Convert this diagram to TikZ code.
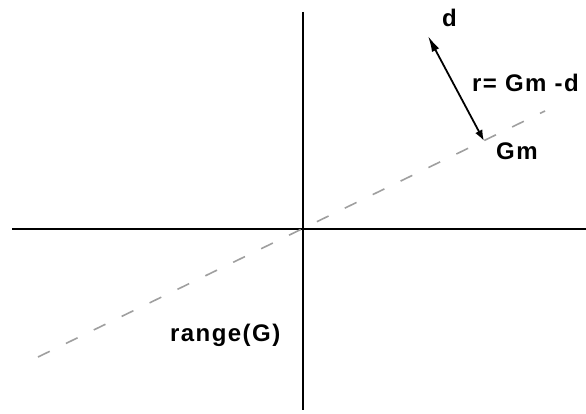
\documentclass[tikz,border=0pt]{standalone}
\usepackage{fontspec}
\setmainfont{Liberation Sans}[LetterSpace=6]
\usetikzlibrary{arrows.meta}
\begin{document}
\begin{tikzpicture}[x=1pt,y=-1pt,
  axis/.style={line width=2pt,black},
  rangeline/.style={line width=1.6pt,gray!75,dash pattern=on 13pt off 18pt},
  vec/.style={line width=1.8pt,{Latex[length=16pt,width=8pt]}-{Latex[length=11pt,width=8pt]}},
  lbl/.style={font=\bfseries\fontsize{24}{28}\selectfont,inner sep=0pt,anchor=base west}]
\useasboundingbox (0,0) rectangle (586,414);
\coordinate (xl) at (12,229);
\coordinate (xr) at (586,229);
\coordinate (yt) at (303,12);
\coordinate (yb) at (303,410);
\coordinate (rl) at (38,357);
\coordinate (rr) at (545,111);
\coordinate (gm) at (484,141);
\coordinate (dd) at (428,36);
\draw[axis] (xl) -- (xr);
\draw[axis] (yt) -- (yb);
\draw[rangeline] (rl) -- (rr);
\draw[vec] (dd) -- (gm);
\node[lbl] (dlab) at (442,27) {d};
\node[lbl] (rlab) at (472,92) {r= Gm -d};
\node[lbl] (gmlab) at (496,160) {Gm};
\node[lbl] (rglab) at (170,341) {range(G)};
\end{tikzpicture}
\end{document}
